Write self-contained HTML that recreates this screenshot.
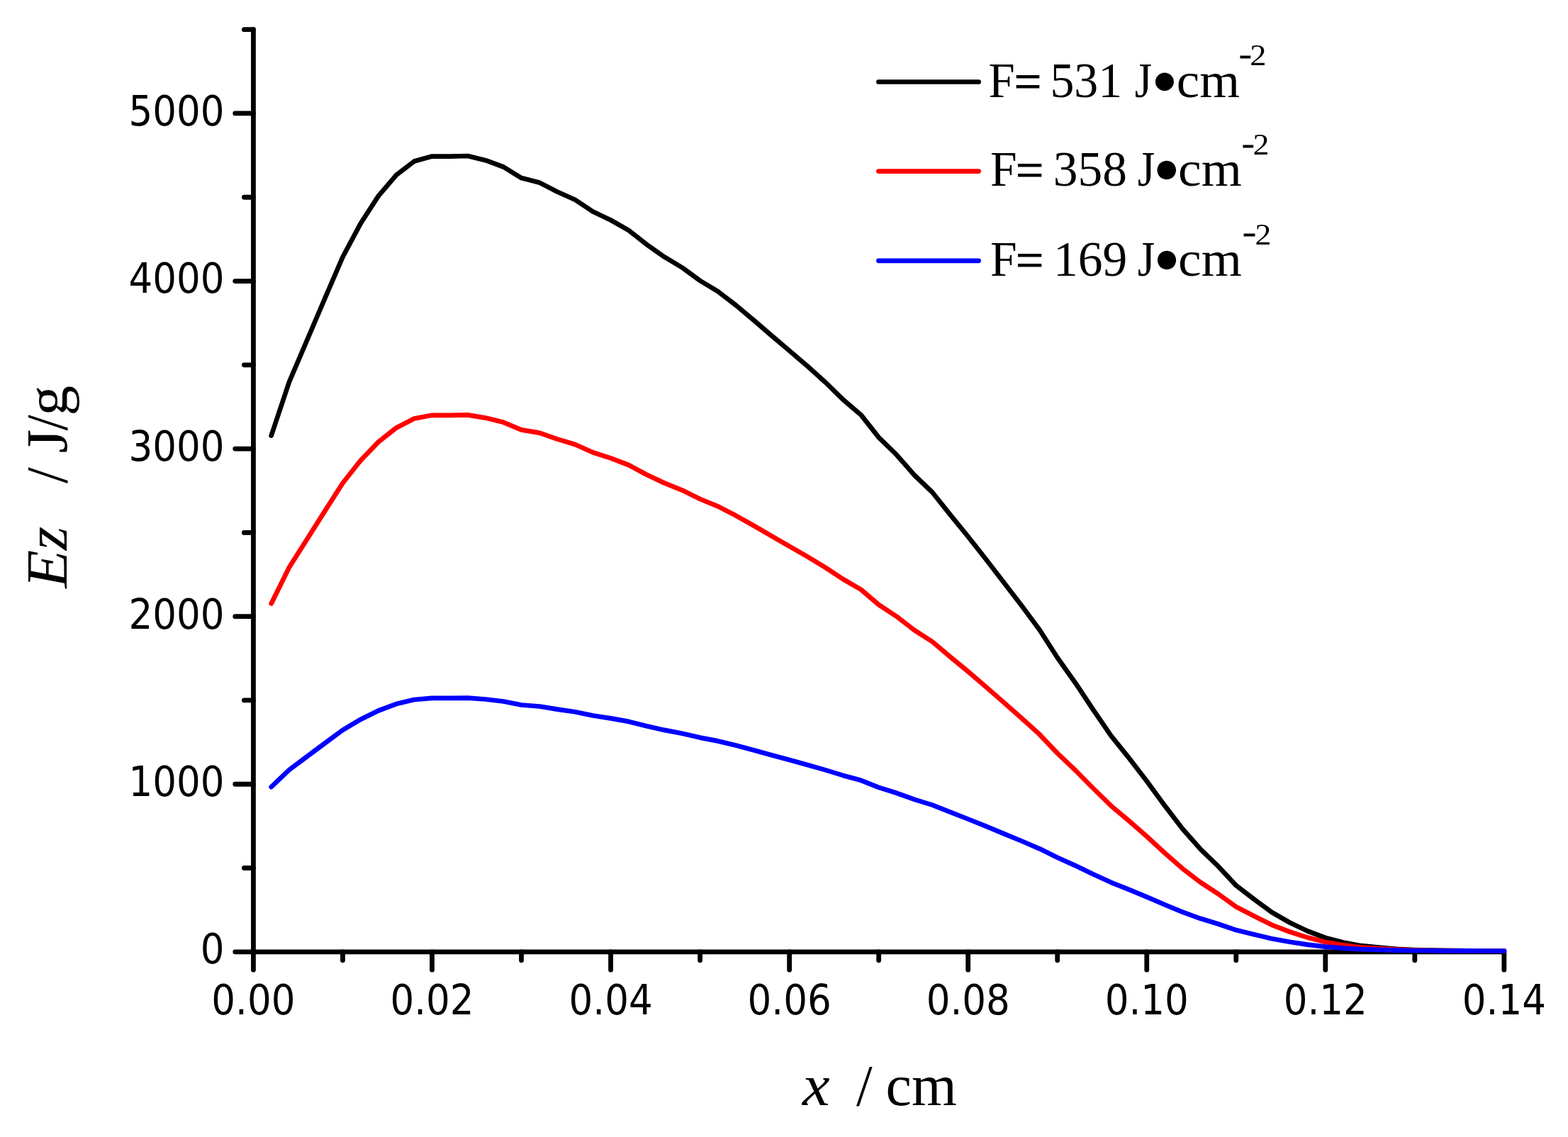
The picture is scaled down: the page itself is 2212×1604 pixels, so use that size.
<!DOCTYPE html>
<html><head><meta charset="utf-8"><title>Ez vs x</title><style>
html,body{margin:0;padding:0;background:#fff;overflow:hidden}
svg{display:block}
</style></head><body>
<svg width="2212" height="1604" viewBox="0 0 2212 1604">
<rect width="2212" height="1604" fill="#fff"/>
<g font-family='"DejaVu Sans Condensed", "DejaVu Sans", sans-serif' font-size="59" text-anchor="end" fill="#000">
<text x="316.5" y="1358.9" textLength="33.76" lengthAdjust="spacingAndGlyphs">0</text>
<text x="316.5" y="1122.9" textLength="135.06" lengthAdjust="spacingAndGlyphs">1000</text>
<text x="316.5" y="887.2" textLength="135.06" lengthAdjust="spacingAndGlyphs">2000</text>
<text x="316.5" y="650.4" textLength="135.06" lengthAdjust="spacingAndGlyphs">3000</text>
<text x="316.5" y="412.6" textLength="135.06" lengthAdjust="spacingAndGlyphs">4000</text>
<text x="316.5" y="177.2" textLength="135.06" lengthAdjust="spacingAndGlyphs">5000</text>
</g>
<g font-family='"DejaVu Sans Condensed", "DejaVu Sans", sans-serif' font-size="59" text-anchor="middle" fill="#000">
<text x="357.4" y="1431.4" textLength="118.15" lengthAdjust="spacingAndGlyphs">0.00</text>
<text x="609.5" y="1431.4" textLength="118.15" lengthAdjust="spacingAndGlyphs">0.02</text>
<text x="861.6" y="1431.4" textLength="118.15" lengthAdjust="spacingAndGlyphs">0.04</text>
<text x="1113.6" y="1431.4" textLength="118.15" lengthAdjust="spacingAndGlyphs">0.06</text>
<text x="1365.7" y="1431.4" textLength="118.15" lengthAdjust="spacingAndGlyphs">0.08</text>
<text x="1617.8" y="1431.4" textLength="118.15" lengthAdjust="spacingAndGlyphs">0.10</text>
<text x="1869.8" y="1431.4" textLength="118.15" lengthAdjust="spacingAndGlyphs">0.12</text>
<text x="2121.9" y="1431.4" textLength="118.15" lengthAdjust="spacingAndGlyphs">0.14</text>
</g>
<g stroke="#000" stroke-width="6.8" stroke-linecap="round" stroke-linejoin="round" fill="none">
<polyline points="357.45,41.69 357.45,1342.80 2121.87,1342.80"/>
<line x1="357.45" y1="1342.80" x2="331.75" y2="1342.80"/>
<line x1="357.45" y1="1224.52" x2="344.45" y2="1224.52"/>
<line x1="357.45" y1="1106.23" x2="331.75" y2="1106.23"/>
<line x1="357.45" y1="987.95" x2="344.45" y2="987.95"/>
<line x1="357.45" y1="869.67" x2="331.75" y2="869.67"/>
<line x1="357.45" y1="751.38" x2="344.45" y2="751.38"/>
<line x1="357.45" y1="633.10" x2="331.75" y2="633.10"/>
<line x1="357.45" y1="514.82" x2="344.45" y2="514.82"/>
<line x1="357.45" y1="396.54" x2="331.75" y2="396.54"/>
<line x1="357.45" y1="278.25" x2="344.45" y2="278.25"/>
<line x1="357.45" y1="159.97" x2="331.75" y2="159.97"/>
<line x1="357.45" y1="41.69" x2="344.45" y2="41.69"/>
<line x1="357.45" y1="1342.80" x2="357.45" y2="1368.20"/>
<line x1="483.48" y1="1342.80" x2="483.48" y2="1354.80"/>
<line x1="609.51" y1="1342.80" x2="609.51" y2="1368.20"/>
<line x1="735.54" y1="1342.80" x2="735.54" y2="1354.80"/>
<line x1="861.57" y1="1342.80" x2="861.57" y2="1368.20"/>
<line x1="987.60" y1="1342.80" x2="987.60" y2="1354.80"/>
<line x1="1113.63" y1="1342.80" x2="1113.63" y2="1368.20"/>
<line x1="1239.66" y1="1342.80" x2="1239.66" y2="1354.80"/>
<line x1="1365.69" y1="1342.80" x2="1365.69" y2="1368.20"/>
<line x1="1491.72" y1="1342.80" x2="1491.72" y2="1354.80"/>
<line x1="1617.75" y1="1342.80" x2="1617.75" y2="1368.20"/>
<line x1="1743.78" y1="1342.80" x2="1743.78" y2="1354.80"/>
<line x1="1869.81" y1="1342.80" x2="1869.81" y2="1368.20"/>
<line x1="1995.84" y1="1342.80" x2="1995.84" y2="1354.80"/>
<line x1="2121.87" y1="1342.80" x2="2121.87" y2="1368.20"/>
</g>
<g fill="none" stroke-width="6.7" stroke-linejoin="round" stroke-linecap="round">
<polyline stroke="#000" points="382.7,614.5 407.9,539.0 433.1,480.0 458.3,421.0 483.5,362.5 508.7,315.3 533.9,276.4 559.1,246.9 584.3,227.6 609.5,220.6 634.7,220.6 659.9,220.0 685.1,226.2 710.3,235.5 735.5,251.1 760.7,257.4 786.0,270.5 811.2,281.7 836.4,298.5 861.6,310.5 886.8,324.8 912.0,344.7 937.2,362.4 962.4,377.5 987.6,396.0 1012.8,411.2 1038.0,430.5 1063.2,451.6 1088.4,473.4 1113.6,494.8 1138.8,516.3 1164.0,538.9 1189.2,563.6 1214.5,585.2 1239.7,617.1 1264.9,641.7 1290.1,670.5 1315.3,694.5 1340.5,726.1 1365.7,757.0 1390.9,789.0 1416.1,821.8 1441.3,854.5 1466.5,888.5 1491.7,927.8 1516.9,963.2 1542.1,1001.1 1567.3,1037.8 1592.5,1069.2 1617.8,1102.0 1643.0,1136.4 1668.2,1169.2 1693.4,1197.8 1718.6,1222.2 1743.8,1249.1 1769.0,1268.5 1794.2,1287.0 1819.4,1301.5 1844.6,1313.5 1869.8,1323.0 1895.0,1329.5 1920.2,1334.2 1945.4,1336.6 1970.6,1338.8 1995.8,1340.0 2021.0,1340.7 2046.3,1341.1 2071.5,1341.3 2096.7,1341.4 2121.9,1341.5"/>
<polyline stroke="#f00" points="382.7,851.4 407.9,800.5 433.1,760.7 458.3,720.9 483.5,681.5 508.7,649.6 533.9,623.4 559.1,603.5 584.3,590.5 609.5,585.8 634.7,585.8 659.9,585.4 685.1,589.6 710.3,595.8 735.5,606.4 760.7,610.6 786.0,619.4 811.2,627.0 836.4,638.3 861.6,646.4 886.8,656.0 912.0,669.5 937.2,681.4 962.4,691.6 987.6,704.0 1012.8,714.3 1038.0,727.3 1063.2,741.5 1088.4,756.2 1113.6,770.7 1138.8,785.2 1164.0,800.4 1189.2,817.0 1214.5,831.6 1239.7,853.1 1264.9,869.7 1290.1,889.1 1315.3,905.3 1340.5,926.6 1365.7,947.4 1390.9,969.0 1416.1,991.1 1441.3,1013.2 1466.5,1036.1 1491.7,1062.6 1516.9,1086.5 1542.1,1112.0 1567.3,1136.7 1592.5,1157.9 1617.8,1180.0 1643.0,1203.2 1668.2,1225.3 1693.4,1244.6 1718.6,1261.1 1743.8,1279.2 1769.0,1292.3 1794.2,1304.8 1819.4,1314.5 1844.6,1322.6 1869.8,1329.0 1895.0,1333.4 1920.2,1336.6 1945.4,1338.2 1970.6,1339.7 1995.8,1340.5 2021.0,1341.0 2046.3,1341.2 2071.5,1341.4 2096.7,1341.4 2121.9,1341.5"/>
<polyline stroke="#00f" points="382.7,1110.1 407.9,1086.1 433.1,1067.3 458.3,1048.5 483.5,1029.9 508.7,1014.9 533.9,1002.5 559.1,993.1 584.3,987.0 609.5,984.8 634.7,984.8 659.9,984.6 685.1,986.5 710.3,989.5 735.5,994.5 760.7,996.5 786.0,1000.6 811.2,1004.2 836.4,1009.5 861.6,1013.4 886.8,1017.9 912.0,1024.3 937.2,1029.9 962.4,1034.7 987.6,1040.6 1012.8,1045.4 1038.0,1051.6 1063.2,1058.3 1088.4,1065.2 1113.6,1072.0 1138.8,1078.9 1164.0,1086.1 1189.2,1093.9 1214.5,1100.8 1239.7,1110.9 1264.9,1118.8 1290.1,1127.9 1315.3,1135.6 1340.5,1145.6 1365.7,1155.5 1390.9,1165.7 1416.1,1176.1 1441.3,1186.5 1466.5,1197.3 1491.7,1209.8 1516.9,1221.1 1542.1,1233.2 1567.3,1244.8 1592.5,1254.8 1617.8,1265.3 1643.0,1276.2 1668.2,1286.7 1693.4,1295.8 1718.6,1303.5 1743.8,1312.1 1769.0,1318.3 1794.2,1324.2 1819.4,1328.8 1844.6,1332.6 1869.8,1335.6 1895.0,1337.7 1920.2,1339.2 1945.4,1339.9 1970.6,1340.6 1995.8,1341.0 2021.0,1341.2 2046.3,1341.4 2071.5,1341.4 2096.7,1341.5 2121.9,1341.5"/>
</g>
<g stroke-width="6.7" stroke-linecap="round">
<line x1="1239.4" y1="115.5" x2="1380.6" y2="115.5" stroke="#000"/>
<line x1="1239.4" y1="241.6" x2="1380.6" y2="241.6" stroke="#f00"/>
<line x1="1239.4" y1="367.8" x2="1380.6" y2="367.8" stroke="#00f"/>
</g>
<text font-family='"Liberation Serif", serif' font-size="70" fill="#000"><tspan x="1394.39" y="137.00" textLength="37.14" lengthAdjust="spacingAndGlyphs">F</tspan><tspan x="1430.70" y="139.45" textLength="38.39" lengthAdjust="spacingAndGlyphs" stroke="#000" stroke-width="1">=</tspan> <tspan x="1481.41" y="137.00" textLength="101.71" lengthAdjust="spacingAndGlyphs">531</tspan> <tspan x="1600.66" y="137.00" textLength="24.27" lengthAdjust="spacingAndGlyphs">J</tspan><tspan x="1628.01" y="124.02" textLength="29.82" lengthAdjust="spacingAndGlyphs" font-family='"DejaVu Sans", sans-serif' font-size="33.65">●</tspan><tspan x="1659.77" y="137.00" textLength="89.22" lengthAdjust="spacingAndGlyphs">cm</tspan><tspan x="1748.05" y="89.64" textLength="17.74" lengthAdjust="spacingAndGlyphs" font-size="41" stroke="#000" stroke-width="0.8">-</tspan><tspan x="1763.22" y="92.00" textLength="23.23" lengthAdjust="spacingAndGlyphs" font-size="42.18">2</tspan></text>
<text font-family='"Liberation Serif", serif' font-size="70" fill="#000"><tspan x="1397.07" y="262.00" textLength="37.60" lengthAdjust="spacingAndGlyphs">F</tspan><tspan x="1433.12" y="264.45" textLength="39.24" lengthAdjust="spacingAndGlyphs" stroke="#000" stroke-width="1">=</tspan> <tspan x="1485.85" y="262.00" textLength="104.05" lengthAdjust="spacingAndGlyphs">358</tspan> <tspan x="1604.65" y="262.00" textLength="24.49" lengthAdjust="spacingAndGlyphs">J</tspan><tspan x="1630.57" y="249.30" textLength="30.51" lengthAdjust="spacingAndGlyphs" font-family='"DejaVu Sans", sans-serif' font-size="34.70">●</tspan><tspan x="1662.05" y="262.00" textLength="89.74" lengthAdjust="spacingAndGlyphs">cm</tspan><tspan x="1752.06" y="215.63" textLength="17.61" lengthAdjust="spacingAndGlyphs" font-size="41" stroke="#000" stroke-width="0.8">-</tspan><tspan x="1767.44" y="218.00" textLength="22.98" lengthAdjust="spacingAndGlyphs" font-size="42.18">2</tspan></text>
<text font-family='"Liberation Serif", serif' font-size="70" fill="#000"><tspan x="1397.07" y="388.90" textLength="37.60" lengthAdjust="spacingAndGlyphs">F</tspan><tspan x="1433.12" y="391.35" textLength="39.24" lengthAdjust="spacingAndGlyphs" stroke="#000" stroke-width="1">=</tspan> <tspan x="1485.92" y="388.90" textLength="104.23" lengthAdjust="spacingAndGlyphs">169</tspan> <tspan x="1604.65" y="388.90" textLength="24.49" lengthAdjust="spacingAndGlyphs">J</tspan><tspan x="1631.00" y="376.20" textLength="30.05" lengthAdjust="spacingAndGlyphs" font-family='"DejaVu Sans", sans-serif' font-size="34.70">●</tspan><tspan x="1662.05" y="388.90" textLength="89.74" lengthAdjust="spacingAndGlyphs">cm</tspan><tspan x="1753.11" y="341.49" textLength="19.03" lengthAdjust="spacingAndGlyphs" font-size="41" stroke="#000" stroke-width="0.8">-</tspan><tspan x="1770.55" y="345.10" textLength="22.86" lengthAdjust="spacingAndGlyphs" font-size="42.03">2</tspan></text>
<text transform="translate(94.1,0) rotate(-90)" font-family='"Liberation Serif", serif' font-size="82.5" fill="#000"><tspan x="-829.73" y="0.00" textLength="53.92" lengthAdjust="spacingAndGlyphs" font-style="italic">E</tspan><tspan x="-776.38" y="0.00" textLength="33.44" lengthAdjust="spacingAndGlyphs" font-style="italic">z</tspan> <tspan x="-681.90" y="0.00" textLength="22.74" lengthAdjust="spacingAndGlyphs">/</tspan> <tspan x="-639.33" y="0.00" textLength="33.64" lengthAdjust="spacingAndGlyphs">J</tspan><tspan x="-607.50" y="0.00" textLength="22.24" lengthAdjust="spacingAndGlyphs">/</tspan><tspan x="-586.51" y="0.00" textLength="42.60" lengthAdjust="spacingAndGlyphs">g</tspan></text>
<text font-family='"Liberation Serif", serif' font-size="82.5" fill="#000"><tspan x="1131.95" y="1559.00" textLength="38.60" lengthAdjust="spacingAndGlyphs" font-style="italic">x</tspan> <tspan x="1208.10" y="1559.00" textLength="22.64" lengthAdjust="spacingAndGlyphs">/</tspan> <tspan x="1249.50" y="1559.00" textLength="100.18" lengthAdjust="spacingAndGlyphs">cm</tspan></text>
</svg></body></html>
